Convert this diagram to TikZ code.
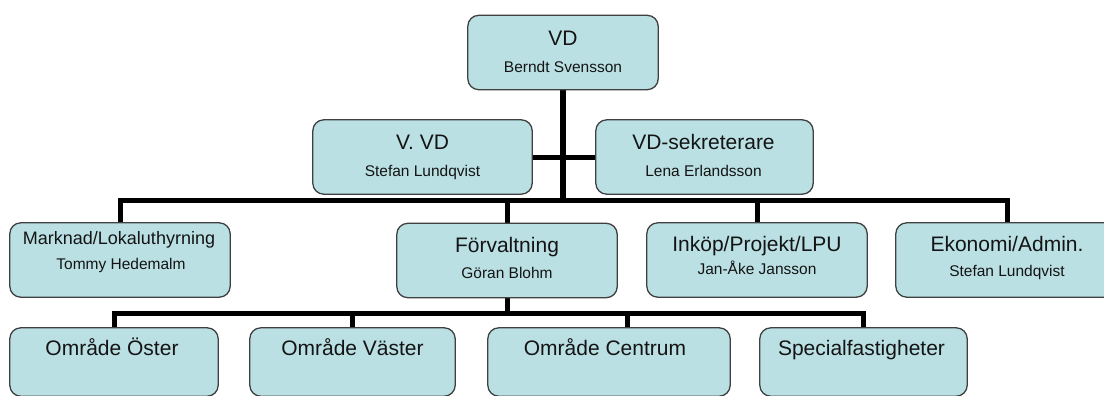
\documentclass[tikz,border=0pt]{standalone}
\usepackage{fontspec}
\setmainfont{Liberation Sans}
\usetikzlibrary{calc}
\definecolor{boxfill}{RGB}{186,224,228}
\definecolor{boxline}{RGB}{64,64,64}
\definecolor{txt}{RGB}{20,20,20}
\begin{document}
\begin{tikzpicture}[x=1pt,y=-1pt,
  boxpos/.style={inner sep=0pt, minimum height=74pt},
  boxdraw/.style={draw=boxline, line width=1.3pt, fill=boxfill, rounded corners=11pt},
  conn/.style={draw=black, line width=5pt, line join=miter},
  ttl/.style={anchor=base, inner sep=0pt, text=txt, font=\fontsize{21}{24}\selectfont},
  sub/.style={anchor=base, inner sep=0pt, text=txt, font=\fontsize{15.5}{18}\selectfont}]
\useasboundingbox[fill=white] (0,0) rectangle (1104,396);
\clip (0,0) rectangle (1104,396);
\coordinate (busY) at (0,200);
\coordinate (busB) at (0,313);
% box frames (positions)
\path
  node[boxpos, minimum width=190pt] (vd) at (563,52.5) {}
  node[boxpos, minimum width=219pt] (vvd) at (422.5,157) {}
  node[boxpos, minimum width=217pt] (vdsek) at (704.5,157) {}
  node[boxpos, minimum width=220pt] (mark) at (120,260) {}
  node[boxpos, minimum width=220pt] (forv) at (507,260.5) {}
  node[boxpos, minimum width=220pt] (inkop) at (757,260) {}
  node[boxpos, minimum width=222pt] (ekon) at (1007,260) {}
  node[boxpos, minimum width=208pt, minimum height=68pt] (oster) at (114,362) {}
  node[boxpos, minimum width=205pt, minimum height=68pt] (vaster) at (352.5,362) {}
  node[boxpos, minimum width=242pt, minimum height=68pt] (centrum) at (609,362) {}
  node[boxpos, minimum width=207pt, minimum height=68pt] (special) at (863.5,362) {};
% connectors
\draw[conn, line width=6.5pt] (vd.south) -- (vd.south |- busY);
\draw[conn] (vvd.east) -- (vdsek.west);
\draw[conn] (mark.north) -- (mark.north |- busY) -- (ekon.north |- busY) -- (ekon.north);
\draw[conn] (forv.north) -- (forv.north |- busY);
\draw[conn] (inkop.north) -- (inkop.north |- busY);
\draw[conn] (forv.south) -- (forv.south |- busB);
\draw[conn] (oster.north) -- (oster.north |- busB) -- (special.north |- busB) -- (special.north);
\draw[conn] (vaster.north) -- (vaster.north |- busB);
\draw[conn] ([xshift=18pt]centrum.north) -- ([xshift=18pt]centrum.north |- busB);
% boxes on top of connector ends
\foreach \n in {vd,vvd,vdsek,mark,forv,inkop,ekon,oster,vaster,centrum,special}
  \draw[boxdraw] (\n.south west) rectangle (\n.north east);
% texts
\node[ttl] (vdT) at ($(vd.north)+(0,30)$) {VD};
\node[sub] (vdN) at ($(vd.north)+(0,57)$) {Berndt Svensson};
\node[ttl] (vvdT) at ($(vvd.north)+(0,30)$) {V. VD};
\node[sub] (vvdN) at ($(vvd.north)+(0,57)$) {Stefan Lundqvist};
\node[ttl] (vdsekT) at ($(vdsek.north)+(-1,30)$) {VD-sekreterare};
\node[sub] (vdsekN) at ($(vdsek.north)+(-1,57)$) {Lena Erlandsson};
\node[ttl, font=\fontsize{18}{21}\selectfont] (markT) at ($(mark.north)+(-1,22)$) {Marknad/Lokaluthyrning};
\node[sub] (markN) at ($(mark.north)+(1,47)$) {Tommy Hedemalm};
\node[ttl] (forvT) at ($(forv.north)+(0,29)$) {Förvaltning};
\node[sub] (forvN) at ($(forv.north)+(0,55)$) {Göran Blohm};
\node[ttl] (inkopT) at ($(inkop.north)+(0,29)$) {Inköp/Projekt/LPU};
\node[sub] (inkopN) at ($(inkop.north)+(0,52)$) {Jan-Åke Jansson};
\node[ttl] (ekonT) at ($(ekon.north)+(0,29)$) {Ekonomi/Admin.};
\node[sub] (ekonN) at ($(ekon.north)+(0,54)$) {Stefan Lundqvist};
\node[ttl] (osterT) at ($(oster.north)+(-2,28)$) {Område Öster};
\node[ttl] (vasterT) at ($(vaster.north)+(0,28)$) {Område Väster};
\node[ttl] (centrumT) at ($(centrum.north)+(-4,28)$) {Område Centrum};
\node[ttl] (specialT) at ($(special.north)+(-2,28)$) {Specialfastigheter};
\end{tikzpicture}
\end{document}
